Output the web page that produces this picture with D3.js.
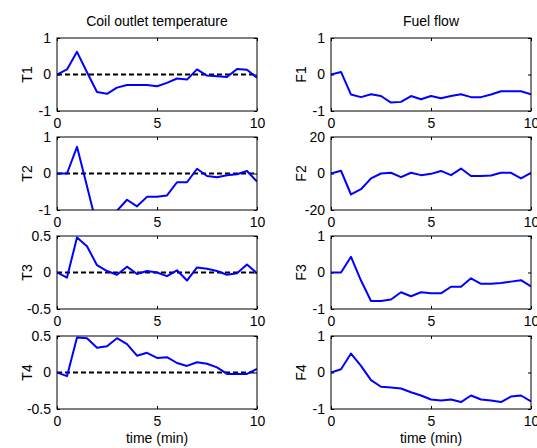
<!DOCTYPE html>
<html lang="en">
<head>
    <meta charset="UTF-8">
    <title>Coil outlet temperature / Fuel flow</title>
    <style>
        body { margin: 0; background: #fff; }
        text { font-family: "Liberation Sans", Arial, sans-serif; font-size: 14px; fill: #000; }
        .tick line { stroke: #000; }
    </style>
</head>
<body>

<svg width="537" height="448"></svg>

<script src="https://d3js.org/d3.v7.min.js"></script>
<script>

    // time axis, one sample every half minute
    const time = [0, 0.5, 1, 1.5, 2, 2.5, 3, 3.5, 4, 4.5, 5, 5.5, 6, 6.5, 7, 7.5, 8, 8.5, 9, 9.5, 10];

    // coil outlet temperatures
    const T1 = [0, 0.14, 0.62, 0.06, -0.48, -0.53, -0.36, -0.29, -0.29, -0.29, -0.32, -0.23, -0.11, -0.14, 0.14, -0.03, -0.05, -0.07, 0.15, 0.13, -0.09];
    const T2 = [0, 0, 0.73, -0.35, -1.45, -1.35, -1.02, -0.72, -0.9, -0.64, -0.64, -0.6, -0.24, -0.24, 0.13, -0.07, -0.1, -0.05, -0.02, 0.07, -0.22];
    const T3 = [0, -0.07, 0.48, 0.36, 0.1, 0.02, -0.03, 0.08, -0.02, 0.02, 0, -0.05, 0.03, -0.11, 0.07, 0.05, 0.02, -0.03, -0.01, 0.11, -0.01];
    const T4 = [0, -0.05, 0.48, 0.47, 0.34, 0.36, 0.47, 0.39, 0.23, 0.27, 0.2, 0.21, 0.13, 0.09, 0.14, 0.12, 0.07, -0.02, -0.02, -0.02, 0.05];

    // fuel flows
    const F1 = [0, 0.07, -0.55, -0.62, -0.54, -0.59, -0.77, -0.75, -0.59, -0.68, -0.59, -0.65, -0.59, -0.54, -0.62, -0.62, -0.55, -0.46, -0.46, -0.46, -0.54];
    const F2 = [0, 1.5, -11.5, -8.6, -2.7, 0, 0.4, -2, 0.4, -0.9, -0.2, 1.4, -0.9, 2.7, -1.4, -1.4, -1.1, 0.4, 0.4, -2.7, 0.4];
    const F3 = [0, 0, 0.43, -0.22, -0.78, -0.78, -0.74, -0.54, -0.65, -0.54, -0.57, -0.57, -0.39, -0.39, -0.16, -0.31, -0.31, -0.29, -0.25, -0.21, -0.38];
    const F4 = [0, 0.09, 0.52, 0.18, -0.21, -0.39, -0.41, -0.44, -0.54, -0.63, -0.74, -0.77, -0.74, -0.81, -0.63, -0.74, -0.77, -0.81, -0.66, -0.63, -0.79];

    const xTicks = [0, 5, 10];
    const ticksUnit = [-1, 0, 1];
    const ticksHalf = [-0.5, 0, 0.5];
    const ticksFlow = [-20, 0, 20];

    const columnTitles = ['Coil outlet temperature', 'Fuel flow'];
    const xLabel = 'time (min)';

    const panels = [
        { name: 'T1', values: T1, ticks: ticksUnit, col: 0, row: 0, dashed: true },
        { name: 'T2', values: T2, ticks: ticksUnit, col: 0, row: 1, dashed: true },
        { name: 'T3', values: T3, ticks: ticksHalf, col: 0, row: 2, dashed: true },
        { name: 'T4', values: T4, ticks: ticksHalf, col: 0, row: 3, dashed: true },
        { name: 'F1', values: F1, ticks: ticksUnit, col: 1, row: 0, dashed: false },
        { name: 'F2', values: F2, ticks: ticksFlow, col: 1, row: 1, dashed: false },
        { name: 'F3', values: F3, ticks: ticksUnit, col: 1, row: 2, dashed: false },
        { name: 'F4', values: F4, ticks: ticksUnit, col: 1, row: 3, dashed: false }
    ];

    // layout of the 2 x 4 grid
    const colLeft = [57, 331];
    const rowTop = [38, 137, 236, 336];
    const panelW = 200;
    const panelH = 73;
    const tickLen = 3;

    // plain labels like "-0.5", "1" (ascii minus, no trailing zeros)
    const plain = function (d) { return String(d); };

    const svg = d3.select('svg');

    const xScale = d3.scaleLinear()
        .domain([time[0], time[time.length - 1]])
        .range([0, panelW]);

    panels.forEach(function (p, i) {

        const yScale = d3.scaleLinear()
            .domain([p.ticks[0], p.ticks[p.ticks.length - 1]])
            .range([panelH, 0]);

        const g = svg.append('g')
            .attr('transform', 'translate(' + colLeft[p.col] + ' ' + rowTop[p.row] + ')');

        g.append('clipPath')
            .attr('id', 'clip' + i)
            .append('rect')
            .attr('width', panelW)
            .attr('height', panelH);

        // axes: labelled on bottom and left, bare ticks on top and right
        const bottom = g.append('g')
            .attr('transform', 'translate(0 ' + panelH + ')')
            .call(d3.axisBottom(xScale).tickValues(xTicks).tickFormat(plain)
                .tickSizeInner(-tickLen).tickSizeOuter(0).tickPadding(7));

        const left = g.append('g')
            .call(d3.axisLeft(yScale).tickValues(p.ticks).tickFormat(plain)
                .tickSizeInner(-tickLen).tickSizeOuter(0).tickPadding(6));

        const top = g.append('g')
            .call(d3.axisTop(xScale).tickValues(xTicks).tickSizeInner(-tickLen).tickSizeOuter(0).tickFormat(''));

        const right = g.append('g')
            .attr('transform', 'translate(' + panelW + ' 0)')
            .call(d3.axisRight(yScale).tickValues(p.ticks).tickSizeInner(-tickLen).tickSizeOuter(0).tickFormat(''));

        [bottom, left, top, right].forEach(function (a) {
            a.attr('font-family', null).attr('font-size', null);
            a.select('.domain').remove();
        });

        const plot = g.append('g').attr('clip-path', 'url(#clip' + i + ')');

        if (p.dashed) {
            plot.append('line')
                .attr('x1', xScale(time[0]))
                .attr('x2', xScale(time[time.length - 1]))
                .attr('y1', yScale(0))
                .attr('y2', yScale(0))
                .attr('stroke', '#000')
                .attr('stroke-width', 2)
                .attr('stroke-dasharray', '5,3');
        }

        const line = d3.line()
            .x(function (d, j) { return xScale(time[j]); })
            .y(function (d) { return yScale(d); });

        plot.append('path')
            .datum(p.values)
            .attr('d', line)
            .attr('fill', 'none')
            .attr('stroke', '#0000ff')
            .attr('stroke-width', 2)
            .attr('stroke-linejoin', 'round');

        // frame
        g.append('rect')
            .attr('width', panelW)
            .attr('height', panelH)
            .attr('fill', 'none')
            .attr('stroke', '#000')
            .attr('stroke-width', 1);

        // y label
        g.append('text')
            .text(p.name)
            .attr('transform', 'translate(-25 ' + (panelH / 2) + ') rotate(-90)')
            .style('text-anchor', 'middle');

        if (p.row === 0) {
            g.append('text')
                .text(columnTitles[p.col])
                .attr('x', panelW / 2)
                .attr('y', -12)
                .style('text-anchor', 'middle');
        }

        if (p.row === rowTop.length - 1) {
            g.append('text')
                .text(xLabel)
                .attr('x', panelW / 2)
                .attr('y', panelH + 34)
                .style('text-anchor', 'middle');
        }
    });

</script>
</body>
</html>
